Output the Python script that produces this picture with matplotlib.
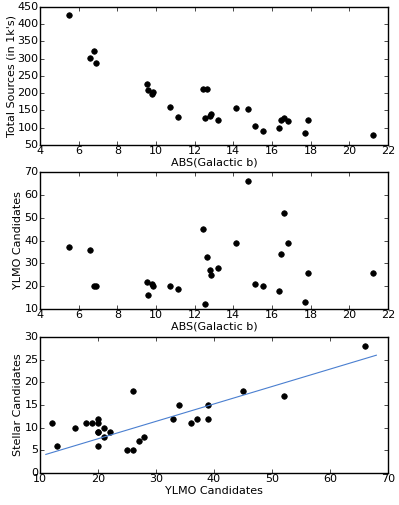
import matplotlib
matplotlib.use("Agg")
import matplotlib.pyplot as plt
import numpy as np

# |galactic b| per field, with totals and candidate counts
gal_b = [5.5, 6.6, 6.8, 6.9, 9.55, 9.57, 9.8, 9.87, 10.7, 11.15,
         12.45, 12.55, 12.65, 12.8, 12.82, 13.2, 14.15, 14.75, 15.1, 15.55,
         16.35, 16.45, 16.6, 16.85, 17.7, 17.85, 21.25]
total_k = [428, 302, 321, 287, 228, 210, 197, 204, 161, 131,
           212, 128, 213, 135, 141, 123, 158, 155, 105, 90,
           99, 122, 127, 120, 84, 122, 78]
ylmo = [37, 36, 20, 20, 22, 16, 21, 20, 20, 19,
        45, 12, 33, 27, 25, 28, 39, 66, 21, 20,
        18, 34, 52, 39, 13, 26, 26]
stellar = [12, 11, 12, 6, 9, 10, 10, 9, 11, 11,
           18, 11, 12, 7, 5, 8, 15, 28, 8, 9,
           11, 15, 17, 12, 6, 18, 5]

# straight-line fit as drawn in the original
fit_slope = 0.384
fit_intercept = -0.13
fit_range = [11, 68]

plt.style.use("classic")
plt.rcParams["font.size"] = 8
plt.rcParams["figure.facecolor"] = "white"
plt.rcParams["savefig.facecolor"] = "white"

fig = plt.figure(figsize=(3.99, 5.05), dpi=100)

ax1 = fig.add_axes([0.1003, 0.7129, 0.872, 0.2733])
ax1.plot(gal_b, total_k, "ko", ms=4)
ax1.set_xlim(4, 22)
ax1.set_ylim(50, 450)
ax1.set_xlabel("ABS(Galactic b)", labelpad=1)
ax1.set_ylabel("Total Sources (in 1k's)", labelpad=1)

ax2 = fig.add_axes([0.1003, 0.388, 0.872, 0.2713])
ax2.plot(gal_b, ylmo, "ko", ms=4)
ax2.set_xlim(4, 22)
ax2.set_ylim(10, 70)
ax2.set_xlabel("ABS(Galactic b)", labelpad=1)
ax2.set_ylabel("YLMO Candidates", labelpad=1)

ax3 = fig.add_axes([0.1003, 0.0634, 0.872, 0.2693])
ax3.plot(ylmo, stellar, "ko", ms=4)
xf = np.array(fit_range)
ax3.plot(xf, fit_slope * xf + fit_intercept, color="#4a7fd0", lw=0.8)
ax3.set_xlim(10, 70)
ax3.set_ylim(0, 30)
ax3.set_xlabel("YLMO Candidates", labelpad=1)
ax3.set_ylabel("Stellar Candidates", labelpad=1)

for ax in (ax1, ax2, ax3):
    ax.tick_params(labelsize=8, length=3, pad=1)
    ax.xaxis.set_ticks_position("both")
    ax.yaxis.set_ticks_position("both")

fig.savefig("out.png", dpi=100)
